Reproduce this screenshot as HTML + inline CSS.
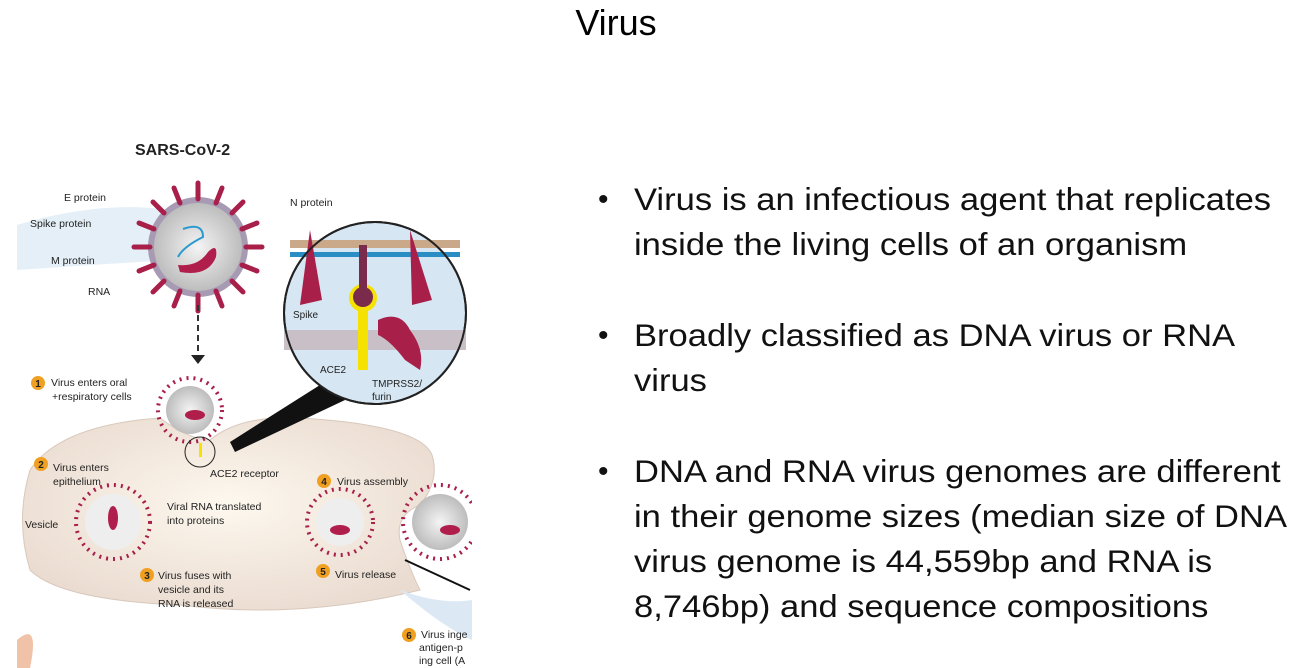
<!DOCTYPE html>
<html><head><meta charset="utf-8"><style>
html,body{margin:0;padding:0;background:#fff;}
body{width:1289px;height:668px;position:relative;overflow:hidden;font-family:"Liberation Sans",sans-serif;}
#title{position:absolute;left:0;width:1232px;top:2px;text-align:center;font-size:36px;color:#000;}
.b{position:absolute;left:598px;font-size:31.5px;line-height:45px;color:#111;white-space:nowrap;}
.b span.dot{position:absolute;left:0;top:0;font-size:30px;}
.b div{margin-left:36px;transform:scaleX(1.097);transform-origin:0 0;}
svg text{font-family:"Liberation Sans",sans-serif;}
</style></head><body>
<div id="title">Virus</div>
<div class="b" style="top:177px"><span class="dot">•</span><div>Virus is an infectious agent that replicates<br>inside the living cells of an organism</div></div>
<div class="b" style="top:313px"><span class="dot">•</span><div>Broadly classified as DNA virus or RNA<br>virus</div></div>
<div class="b" style="top:449px"><span class="dot">•</span><div>DNA and RNA virus genomes are different<br>in their genome sizes (median size of DNA<br>virus genome is 44,559bp and RNA is<br>8,746bp) and sequence compositions</div></div>

<svg style="position:absolute;left:0;top:0" width="480" height="668">
<defs>
<radialGradient id="cg" cx="0.5" cy="0.45" r="0.6"><stop offset="0" stop-color="#fdf8ee"/><stop offset="1" stop-color="#eadbd0"/></radialGradient>
<radialGradient id="vg" cx="0.5" cy="0.5" r="0.5"><stop offset="0" stop-color="#f4f4f4"/><stop offset="1" stop-color="#bdbdbd"/></radialGradient>
</defs>
<path d="M17 225 Q100 200 170 210 L170 260 Q90 265 17 270 Z" fill="#d9e8f4" opacity="0.7"/>
<path d="M17 640 Q40 620 30 668 L17 668Z" fill="#f0c2a8"/>
<path d="M30 470 Q60 425 160 418 Q190 440 210 440 Q240 415 300 418 Q420 425 432 455 Q440 480 420 505 Q395 515 400 540 Q410 570 420 590 Q300 620 180 605 Q60 600 30 570 Q15 520 30 470Z" fill="url(#cg)" stroke="#d8c8bc"/>
<path d="M400 590 Q440 625 472 640 L472 600 Q440 605 400 590Z" fill="#dce9f5"/>
<g transform="translate(198,247)">
<circle r="50" fill="#a79ab3"/><circle r="44" fill="url(#vg)"/>
<g stroke="#a8204a" stroke-width="5" stroke-linecap="round">
<line x1="0" y1="-48" x2="0" y2="-64"/><line x1="34" y1="-34" x2="45" y2="-45"/><line x1="48" y1="0" x2="64" y2="0"/><line x1="34" y1="34" x2="45" y2="45"/><line x1="0" y1="48" x2="0" y2="64"/><line x1="-34" y1="34" x2="-45" y2="45"/><line x1="-48" y1="0" x2="-64" y2="0"/><line x1="-34" y1="-34" x2="-45" y2="-45"/>
<line x1="18" y1="-44" x2="24" y2="-59"/><line x1="44" y1="-18" x2="59" y2="-24"/><line x1="44" y1="18" x2="59" y2="24"/><line x1="18" y1="44" x2="24" y2="59"/><line x1="-18" y1="44" x2="-24" y2="59"/><line x1="-44" y1="18" x2="-59" y2="24"/><line x1="-44" y1="-18" x2="-59" y2="-24"/><line x1="-18" y1="-44" x2="-24" y2="-59"/>
</g>
<path d="M-15 -18 Q5 -25 5 -10 Q-15 0 -20 10" stroke="#2a9ad0" stroke-width="2" fill="none"/>
<path d="M-20 18 Q0 20 10 5 Q20 -5 18 10 Q10 30 -18 25Z" fill="#b01e4c"/>
</g>
<text x="135" y="155" font-size="16" font-weight="bold" fill="#222">SARS-CoV-2</text>
<g font-size="10.5" fill="#222">
<text x="64" y="201">E protein</text><text x="30" y="227">Spike protein</text><text x="51" y="264">M protein</text><text x="88" y="295">RNA</text><text x="290" y="206">N protein</text>
<text x="51" y="386">Virus enters oral</text><text x="52" y="400">+respiratory cells</text>
<text x="53" y="471">Virus enters</text><text x="53" y="485">epithelium</text><text x="25" y="528">Vesicle</text>
<text x="210" y="477">ACE2 receptor</text><text x="337" y="485">Virus assembly</text>
<text x="167" y="510">Viral RNA translated</text><text x="167" y="524">into proteins</text>
<text x="158" y="579">Virus fuses with</text><text x="158" y="593">vesicle and its</text><text x="158" y="607">RNA is released</text>
<text x="335" y="578">Virus release</text>
<text x="421" y="638">Virus inge</text><text x="419" y="651">antigen-p</text><text x="419" y="664">ing cell (A</text>
</g>
<g fill="#f0a020">
<circle cx="38" cy="383" r="7"/><circle cx="41" cy="464" r="7"/><circle cx="147" cy="575" r="7"/><circle cx="324" cy="481" r="7"/><circle cx="323" cy="571" r="7"/><circle cx="409" cy="635" r="7"/>
</g>
<g font-size="10" font-weight="bold" fill="#222" text-anchor="middle"><text x="38" y="387">1</text><text x="41" y="468">2</text><text x="147" y="579">3</text><text x="324" y="485">4</text><text x="323" y="575">5</text><text x="409" y="639">6</text></g>
<line x1="198" y1="305" x2="198" y2="355" stroke="#333" stroke-width="2" stroke-dasharray="6,4"/>
<path d="M191 355 L205 355 L198 364Z" fill="#222"/>
<path d="M230 442 L320 385 L345 400 L235 452Z" fill="#111"/>
<g>
<circle cx="375" cy="313" r="91" fill="#d6e7f3" stroke="#222" stroke-width="2"/>
<path d="M284 330 L466 330 L466 350 L284 350Z" fill="#c9bfc6"/>
<rect x="290" y="240" width="170" height="8" fill="#c9a98a"/><rect x="290" y="252" width="170" height="5" fill="#2a8ec4"/>
<rect x="358" y="290" width="10" height="80" fill="#f5e200"/><circle cx="363" cy="298" r="14" fill="#f5e200"/>
<rect x="359" y="245" width="8" height="50" fill="#7a2a4a"/><circle cx="363" cy="297" r="10" fill="#7a2a4a"/>
<path d="M310 230 L322 300 L300 305Z" fill="#a8204a"/><path d="M410 230 L432 300 L412 305Z" fill="#a8204a"/>
<path d="M378 320 Q400 310 410 330 Q425 350 420 370 L405 360 Q390 340 378 335Z" fill="#a8204a"/>
<circle cx="375" cy="313" r="91" fill="none" stroke="#222" stroke-width="2"/>
</g>
<g font-size="10" fill="#222"><text x="293" y="318">Spike</text><text x="320" y="373">ACE2</text><text x="372" y="387">TMPRSS2/</text><text x="372" y="400">furin</text></g>
<g fill="none" stroke="#a8204a" stroke-width="4" stroke-dasharray="2,5">
<circle cx="190" cy="410" r="32"/><circle cx="113" cy="522" r="37"/><circle cx="340" cy="522" r="33"/><circle cx="440" cy="522" r="37"/>
</g>
<circle cx="190" cy="410" r="24" fill="url(#vg)"/><circle cx="113" cy="522" r="28" fill="#eee"/><circle cx="340" cy="522" r="24" fill="#eee"/><circle cx="440" cy="522" r="28" fill="url(#vg)"/>
<g fill="#b01e4c"><ellipse cx="195" cy="415" rx="10" ry="5"/><ellipse cx="113" cy="518" rx="5" ry="12"/><ellipse cx="340" cy="530" rx="10" ry="5"/><ellipse cx="450" cy="530" rx="10" ry="5"/></g>
<circle cx="200" cy="452" r="15" fill="none" stroke="#222"/>
<rect x="199" y="443" width="3" height="14" fill="#f5e200"/>
<path d="M405 560 L470 590" stroke="#111" stroke-width="2" fill="none"/>
<rect x="472" y="0" width="10" height="668" fill="#fff"/>
</svg>
</body></html>
